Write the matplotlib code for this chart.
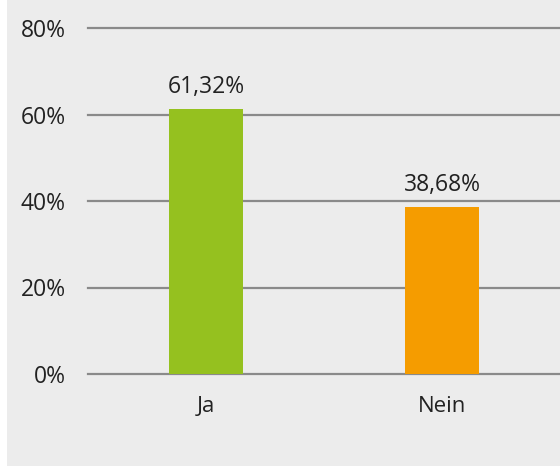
import matplotlib.pyplot as plt
from matplotlib.patches import Rectangle
from matplotlib.ticker import FuncFormatter

categories = ['Ja', 'Nein']
values = [61.32, 38.68]
colors = ['#95c11f', '#f59c00']
yticks = [0, 20, 40, 60, 80]

plt.rcParams['font.family'] = ['Open Sans', 'DejaVu Sans']

BG = '#ececec'
GRID = '#8a8a8a'
TXT = '#222222'

fig = plt.figure(figsize=(5.6, 4.66), dpi=100)
fig.patch.set_facecolor(BG)
# thin white strip on the left edge
fig.add_artist(Rectangle((0, 0), 7 / 560, 1, transform=fig.transFigure,
                         facecolor='white', edgecolor='none', zorder=0))

ax = fig.add_axes([88 / 560, 92 / 466, 472 / 560, 346 / 466])
ax.set_facecolor(BG)

x = range(len(categories))
ax.bar(x, values, width=0.314, color=colors, zorder=3)

for xi, v in zip(x, values):
    ax.annotate(f'{v:.2f}%'.replace('.', ','), (xi, v),
                xytext=(0, 7), textcoords='offset points',
                ha='center', va='bottom', fontsize=16.5, color=TXT)

ax.set_xlim(-0.5, 1.5)
ax.set_ylim(0, 80)
ax.set_yticks(yticks)
ax.yaxis.set_major_formatter(FuncFormatter(lambda v, _: f'{v:.0f}%'))
ax.set_xticks(list(x))
ax.set_xticklabels(categories)

for t in yticks:
    ax.axhline(t, color=GRID, lw=1.6, zorder=1, clip_on=False)
for s in ax.spines.values():
    s.set_visible(False)

ax.tick_params(axis='y', length=0, pad=16, labelsize=16.5, labelcolor=TXT)
ax.tick_params(axis='x', length=0, pad=16, labelsize=16, labelcolor=TXT)

fig.savefig('out.png', dpi=100, facecolor=BG)
